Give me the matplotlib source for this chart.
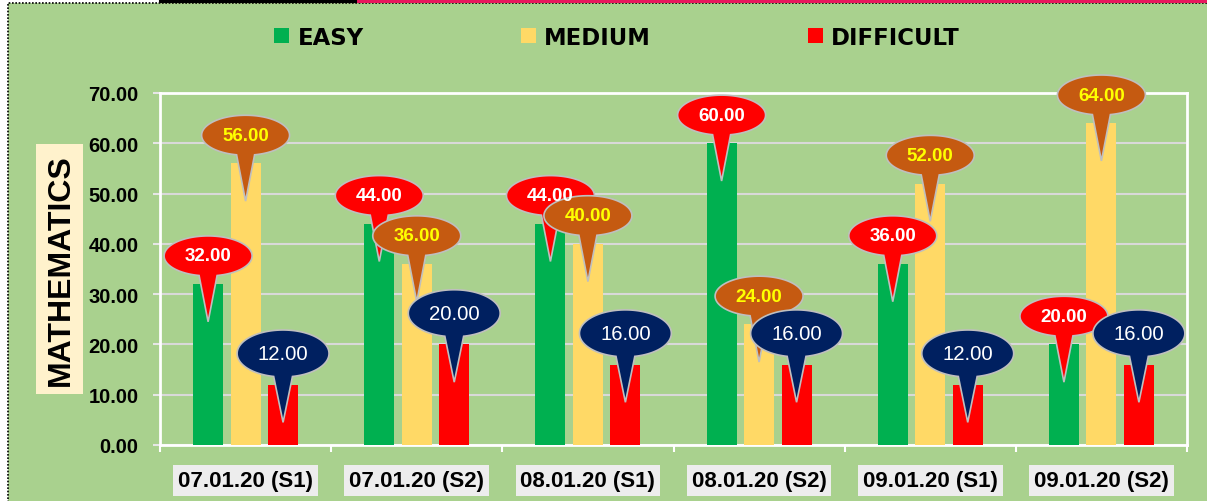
import matplotlib
matplotlib.use('Agg')
import matplotlib.pyplot as plt
import numpy as np
from matplotlib.patches import Polygon, Rectangle

categories = ['07.01.20 (S1)', '07.01.20 (S2)', '08.01.20 (S1)',
              '08.01.20 (S2)', '09.01.20 (S1)', '09.01.20 (S2)']
easy = [32, 44, 44, 60, 36, 20]
medium = [56, 36, 40, 24, 52, 64]
difficult = [12, 20, 16, 16, 12, 16]

W, H = 1207, 502
fig = plt.figure(figsize=(W / 100, H / 100), dpi=100, facecolor='white')

# green panel with dotted border (only left/top edges visible)
fig.patches.append(Rectangle((8 / W, -0.05), 1.1, 1 - 4 / H + 0.05, transform=fig.transFigure,
                             facecolor='#a9d18e', edgecolor='black', linestyle=(0, (1, 1)),
                             linewidth=1.2, zorder=-10))
# remnant strip along the very top
fig.lines.append(plt.Line2D([160 / W, 1.0], [1 - 1.5 / H] * 2, transform=fig.transFigure,
                            color='#e8175d', linewidth=2.2))
fig.lines.append(plt.Line2D([160 / W, 355 / W], [1 - 1.5 / H] * 2, transform=fig.transFigure,
                            color='black', linewidth=2.2))

ax = fig.add_axes([160 / W, 1 - 446 / H, (1187 - 160) / W, (446 - 94) / H])
ax.set_facecolor('none')

x = np.arange(len(categories))
off = 0.219
bw = 0.175
b1 = ax.bar(x - off, easy, bw, color='#00b050', label='EASY', zorder=3)
b2 = ax.bar(x, medium, bw, color='#ffd966', label='MEDIUM', zorder=3)
b3 = ax.bar(x + off, difficult, bw, color='#ff0000', label='DIFFICULT', zorder=3)

ax.set_xlim(-0.5, 5.5)
ax.set_ylim(0, 70)
ax.set_yticks(np.arange(0, 71, 10))
ax.set_yticklabels(['%.2f' % v for v in np.arange(0, 71, 10)],
                   fontfamily='Liberation Sans', fontweight='bold', fontsize=14.5)
ax.yaxis.grid(True, color='#d9d9d9', linewidth=1.5, zorder=1)
ax.tick_params(axis='y', length=5, width=1.5, color='#e6e6e6', pad=10.5)

ax.set_xticks(x)
ax.set_xticklabels(categories, fontfamily='Liberation Sans', fontweight='bold', fontsize=16)
for t in ax.get_xticklabels():
    t.set_bbox(dict(boxstyle='square,pad=0.22', facecolor='#ededed', edgecolor='none'))
ax.tick_params(axis='x', which='major', length=0, pad=18)
ax.set_xticks(np.arange(-0.5, 5.6, 1), minor=True)
ax.tick_params(axis='x', which='minor', length=5, width=1.5, color='white', direction='out')

for s in ax.spines.values():
    s.set_color('white')
    s.set_linewidth(2)


def callout(cx, val, color, w, h, above):
    cy = val + above
    tip = val - 7.5
    a = np.radians(11.8)
    t = np.linspace(-np.pi / 2 + a, 3 * np.pi / 2 - a, 120)
    pts = np.column_stack([cx + w / 2 * np.cos(t), cy + h / 2 * np.sin(t)])
    pts = np.vstack([pts, [cx, tip]])
    ax.add_patch(Polygon(pts, closed=True, facecolor=color, edgecolor='#bfbfbf',
                         linewidth=1.2, zorder=5, clip_on=False))
    return cy


for i in range(len(categories)):
    cy = callout(x[i] - off, easy[i], '#ff0000', 0.514, 7.95, 5.6)
    ax.text(x[i] - off, cy, '%.2f' % easy[i], color='white', fontweight='bold',
            fontfamily='Liberation Sans', fontsize=13.5, ha='center', va='center', zorder=6)
for i in range(len(categories)):
    cy = callout(x[i], medium[i], '#c55a11', 0.514, 7.95, 5.6)
    ax.text(x[i], cy, '%.2f' % medium[i], color='#ffff00', fontweight='bold',
            fontfamily='Liberation Sans', fontsize=13.5, ha='center', va='center', zorder=6)
for i in range(len(categories)):
    cy = callout(x[i] + off, difficult[i], '#002060', 0.537, 9.34, 6.2)
    ax.text(x[i] + off, cy, '%.2f' % difficult[i], color='white',
            fontfamily='Liberation Sans', fontsize=14.7,
            ha='center', va='center', zorder=6)

# y axis title in a light box
fig.patches.append(Rectangle((36 / W, 1 - 395 / H), 47 / W, 250 / H, transform=fig.transFigure,
                             facecolor='#fff2cc', edgecolor='none', zorder=1))
fig.text(61 / W, 1 - 270 / H, 'MATHEMATICS', rotation=90, ha='center', va='center',
         fontfamily='Liberation Sans', fontweight='bold', fontsize=23)

fig.legend(handles=[b1, b2, b3], labels=['EASY', 'MEDIUM', 'DIFFICULT'], ncol=3,
           loc='center', bbox_to_anchor=(617 / W, 1 - 38 / H), frameon=False,
           prop=dict(family='DejaVu Sans', weight='bold', size=16.4),
           handlelength=0.66, handleheight=0.66, handletextpad=0.35, columnspacing=6.9)

fig.savefig('out.png', dpi=100, facecolor='white')
